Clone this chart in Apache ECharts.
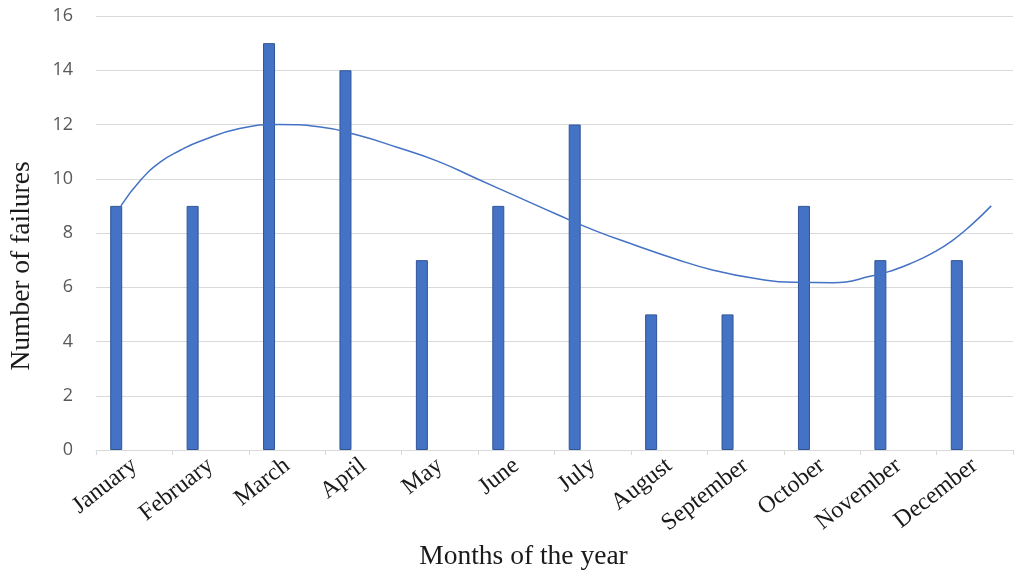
<!DOCTYPE html>
<html>
<head>
<meta charset="utf-8">
<script src="https://cdn.jsdelivr.net/npm/echarts@6/dist/echarts.min.js"></script>
<style>
  html, body { margin: 0; padding: 0; background: #ffffff; }
  #chart { width: 1020px; height: 573px; }
</style>
</head>
<body>
<div id="chart"></div>
<script>
// Monthly failure counts
const months = ['January', 'February', 'March', 'April', 'May', 'June',
                'July', 'August', 'September', 'October', 'November', 'December'];
const failures = [9, 9, 15, 14, 7, 9, 12, 5, 5, 9, 7, 7];

// Polynomial trend line, sampled along the months (month index, value)
const trendIndex = [0, 0.25, 0.5, 0.75, 1, 1.5, 2, 2.5, 3, 3.5, 4, 4.5, 5, 5.5,
                    6, 6.5, 7, 7.5, 8, 8.5, 9, 9.5, 9.75, 10, 10.25, 10.5, 10.75, 11];
const trendValues = [9.0, 9.95, 10.62, 11.05, 11.38, 11.85, 12.0, 11.92, 11.6, 11.15, 10.65, 10.0, 9.35, 8.7,
                     8.08, 7.55, 7.05, 6.62, 6.33, 6.18, 6.17, 6.42, 6.62, 6.9, 7.25, 7.7, 8.3, 9.0];

// Y axis ticks
const yTicks = [0, 2, 4, 6, 8, 10, 12, 14, 16];

const trendData = trendIndex.map((m, i) => [m, trendValues[i]]);

const serif = '"Liberation Serif", "Times New Roman", serif';

const chart = echarts.init(document.getElementById('chart'));
chart.setOption({
  animation: false,
  backgroundColor: '#ffffff',
  grid: { left: 96, right: 7, top: 16, bottom: 123, outerBoundsMode: 'none', containLabel: false },
  xAxis: [
    {
      type: 'category',
      data: months,
      boundaryGap: true,
      axisLine: { lineStyle: { color: '#d9d9d9', width: 1 } },
      axisTick: { show: true, length: 5, lineStyle: { color: '#d9d9d9' } },
      axisLabel: {
        interval: 0,
        rotate: 38,
        margin: 13,
        fontFamily: serif,
        fontSize: 24,
        color: '#1a1a1a'
      },
      name: 'Months of the year',
      nameLocation: 'middle',
      nameGap: 92,
      nameTextStyle: {
        fontFamily: serif,
        fontSize: 27.5,
        color: '#1a1a1a',
        padding: [0, 62, 0, 0]
      }
    },
    {
      // hidden numeric axis that positions the trend curve
      type: 'value',
      show: false,
      min: -0.315,
      max: 11.275
    }
  ],
  yAxis: {
    type: 'value',
    min: yTicks[0],
    max: yTicks[yTicks.length - 1],
    interval: 2,
    axisLine: { show: false },
    axisTick: { show: false },
    splitLine: { lineStyle: { color: '#d9d9d9', width: 1 } },
    axisLabel: {
      margin: 23,
      fontFamily: '"Open Sans", "Noto Sans", sans-serif',
      fontSize: 18,
      color: '#595959'
    },
    name: 'Number of failures',
    nameLocation: 'middle',
    nameGap: 60,
    nameTextStyle: {
      fontFamily: serif,
      fontSize: 27.5,
      color: '#1a1a1a',
      padding: [0, 66, 0, 0]
    }
  },
  series: [
    {
      name: 'Failures',
      type: 'bar',
      data: failures,
      barWidth: 12,
      barGap: '200%',
      itemStyle: { color: '#4472c4', borderColor: '#2f5597', borderWidth: 1 }
    },
    {
      // empty companion series keeps the cluster layout of the bars
      name: 'spacer',
      type: 'bar',
      data: [],
      barWidth: 12
    },
    {
      name: 'Trend',
      type: 'line',
      xAxisIndex: 1,
      data: trendData,
      smooth: 0.5,
      symbol: 'none',
      lineStyle: { color: '#4472c4', width: 1.5 },
      z: 3
    }
  ]
});
</script>
</body>
</html>
